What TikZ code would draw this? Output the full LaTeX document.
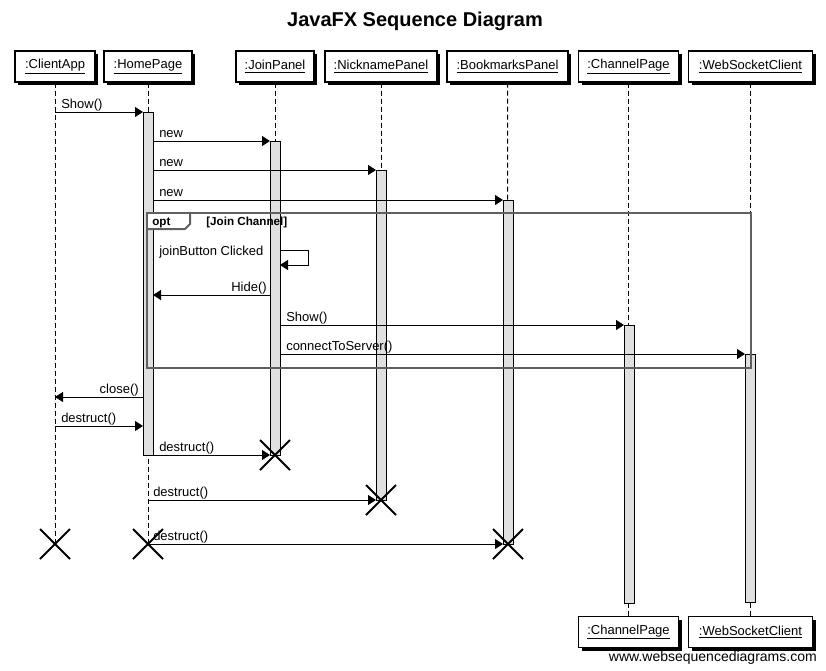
\documentclass[tikz,border=0pt]{standalone}
\usepackage{fontspec}
\setmainfont{Liberation Sans}
\usetikzlibrary{arrows.meta,shadows}
\definecolor{barfill}{HTML}{E0E0E0}
\definecolor{framecol}{HTML}{606060}
\begin{document}
\begin{tikzpicture}[x=0.75pt,y=-0.75pt,
  lbl/.style={font=\fontsize{9.75pt}{11pt}\selectfont},
  head/.style={draw,fill=white,line width=0.9pt,minimum height=23.25pt,inner sep=0pt,
    font=\fontsize{9.75pt}{11pt}\selectfont,
    drop shadow={shadow xshift=2.25pt,shadow yshift=-2.25pt,fill=black,opacity=1}},
  life/.style={dash pattern=on 3.75pt off 2.25pt,line width=0.75pt},
  bar/.style={draw,fill=barfill,line width=0.75pt},
  msg/.style={line width=0.75pt,-{Triangle[length=6pt,width=7.5pt]}},
  mlabel/.style={lbl,inner sep=0pt,anchor=base west},
  mlabelr/.style={lbl,inner sep=0pt,anchor=base east},
  cross/.style={line width=1.5pt},
  framebox/.style={draw=framecol,line width=1.5pt}]
\useasboundingbox (0,0) rectangle (826,671);
% title
\node[font=\bfseries\fontsize{15pt}{17pt}\selectfont] (title) at (415,21) {JavaFX Sequence Diagram};
% headers
\node[head,minimum width=60pt] (ca) at (55,66.5) {\underline{:ClientApp}};
\node[head,minimum width=66pt] (hp) at (148,66.5) {\underline{:HomePage}};
\node[head,minimum width=58.5pt] (jp) at (275,66.5) {\underline{:JoinPanel}};
\node[head,minimum width=84pt] (np) at (381,66.5) {\underline{:NicknamePanel}};
\node[head,minimum width=90.75pt] (bp) at (507.5,66.5) {\underline{:BookmarksPanel}};
\node[head,minimum width=75pt] (cp) at (628.5,66.5) {\underline{:ChannelPage}};
\node[head,minimum width=93pt] (ws) at (750.5,66.5) {\underline{:WebSocketClient}};
% footers
\node[head,minimum width=75pt] (cpf) at (628.5,632) {\underline{:ChannelPage}};
\node[head,minimum width=93pt] (wsf) at (750.5,632) {\underline{:WebSocketClient}};
% lifeline end coordinates
\coordinate (caend) at (55,544);
\coordinate (hpend) at (148,544);
\coordinate (jpend) at (275,455);
\coordinate (npend) at (381,500);
\coordinate (bpend) at (508,544);
% lifelines
\draw[life] (ca.south) -- (caend);
\draw[life] (hp.south) -- (hpend);
\draw[life] (jp.south) -- (jpend);
\draw[life] (np.south) -- (npend);
\draw[life] (bp.south) -- (bpend);
\draw[life] (cp.south) -- (cpf.north);
\draw[life] (ws.south) -- (wsf.north);
% activation bars
\draw[bar] (143,112) rectangle (153,455);
\draw[bar] (270,141) rectangle (280,455);
\draw[bar] (376,170) rectangle (386,500);
\draw[bar] (503,200) rectangle (513,544);
\draw[bar] (624,325) rectangle (634,603);
\draw[bar] (745,354) rectangle (755,602);
% message coordinates
\coordinate (m1a) at (55,112);  \coordinate (m1b) at (143,112);
\coordinate (m2a) at (153,141); \coordinate (m2b) at (270,141);
\coordinate (m3a) at (153,170); \coordinate (m3b) at (376,170);
\coordinate (m4a) at (153,200); \coordinate (m4b) at (503,200);
\coordinate (m5a) at (280,250); \coordinate (m5b) at (280,265);
\coordinate (m6a) at (270,295); \coordinate (m6b) at (153,295);
\coordinate (m7a) at (280,325); \coordinate (m7b) at (624,325);
\coordinate (m8a) at (280,354); \coordinate (m8b) at (745,354);
\coordinate (m9a) at (143,397); \coordinate (m9b) at (55,397);
\coordinate (m10a) at (55,426); \coordinate (m10b) at (143,426);
\coordinate (m11a) at (153,455); \coordinate (m11b) at (270,455);
\coordinate (m12a) at (148,500); \coordinate (m12b) at (376,500);
\coordinate (m13a) at (148,544); \coordinate (m13b) at (503,544);
% messages
\draw[msg] (m1a) -- (m1b);
\node[mlabel] (l1) at (61,108) {Show()};
\draw[msg] (m2a) -- (m2b);
\node[mlabel] (l2) at (159,137) {new};
\draw[msg] (m3a) -- (m3b);
\node[mlabel] (l3) at (159,166) {new};
\draw[msg] (m4a) -- (m4b);
\node[mlabel] (l4) at (159,196) {new};
\draw[msg] (m5a) -- ++(28,0) |- (m5b);
\node[mlabel] (l5) at (159,255) {joinButton Clicked};
\draw[msg] (m6a) -- (m6b);
\node[mlabelr] (l6) at (267,291) {Hide()};
\draw[msg] (m7a) -- (m7b);
\node[mlabel] (l7) at (286,321) {Show()};
\draw[msg] (m8a) -- (m8b);
\node[mlabel] (l8) at (286,350) {connectToServer()};
\draw[msg] (m9a) -- (m9b);
\node[mlabelr] (l9) at (139,393) {close()};
\draw[msg] (m10a) -- (m10b);
\node[mlabel] (l10) at (61,422) {destruct()};
\draw[msg] (m11a) -- (m11b);
\node[mlabel] (l11) at (159,451) {destruct()};
\draw[msg] (m12a) -- (m12b);
\node[mlabel] (l12) at (153,496) {destruct()};
\draw[msg] (m13a) -- (m13b);
\node[mlabel] (l13) at (153,540) {destruct()};
% opt frame
\draw[framebox] (147,213) rectangle (751,368);
\fill[white] (148,214) -- (189,214) -- (189,224) -- (185,228) -- (148,228) -- cycle;
\draw[framebox] (147,229) -- (185,229) -- (190,224) -- (190,213);
\node[font=\bfseries\fontsize{8.75pt}{10pt}\selectfont,inner sep=0pt,anchor=base west] (optl) at (152,225) {opt};
\node[font=\bfseries\fontsize{8.75pt}{10pt}\selectfont,inner sep=0pt,anchor=base west] (optg) at (206,225) {[Join Channel]};
% destruction marks
\foreach \c in {caend,hpend,jpend,npend,bpend}{
  \draw[cross] ([shift={(-15,-15)}]\c) -- ([shift={(15,15)}]\c);
  \draw[cross] ([shift={(-15,15)}]\c) -- ([shift={(15,-15)}]\c);
}
% watermark
\node[font=\fontsize{10.5pt}{12pt}\selectfont,inner sep=0pt,anchor=base east] (wm) at (817,661) {www.websequencediagrams.com};
\end{tikzpicture}
\end{document}
